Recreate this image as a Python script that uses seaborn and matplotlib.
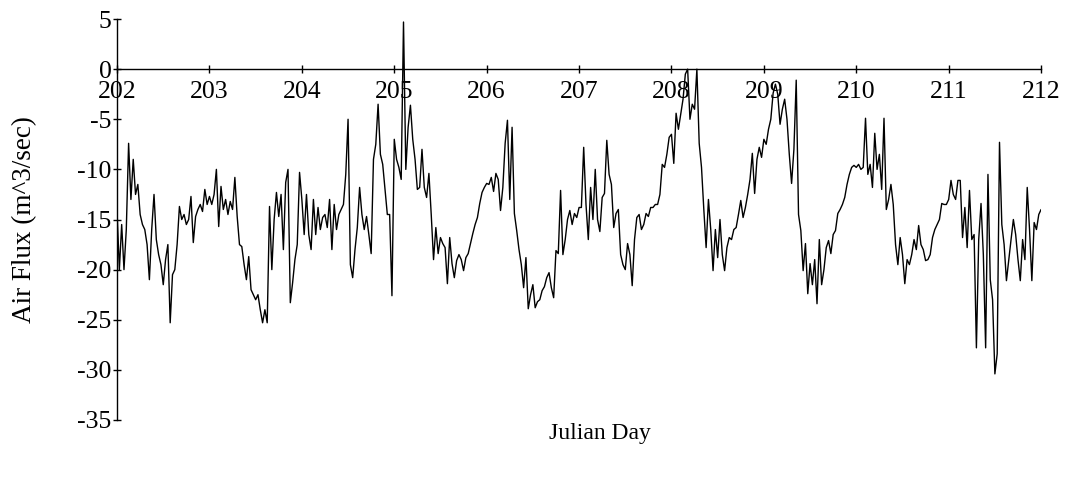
import numpy as np
import pandas as pd
import matplotlib
matplotlib.use("Agg")
import matplotlib.pyplot as plt
import seaborn as sns

# Air flux (m^3/sec), 40 samples per Julian day
day202 = [-14.2, -20, -15.5, -20, -16, -7.4, -13, -9, -12.5, -11.5,
          -14.5, -15.5, -16, -17.5, -21, -16, -12.5, -17, -18.5, -19.5,
          -21.5, -19, -17.5, -25.3, -20.5, -20, -17.5, -13.7, -15, -14.5,
          -15.5, -15, -12.7, -17.3, -14.7, -14, -13.5, -14.2, -12, -13.5]
day203 = [-12.7, -13.5, -12.5, -10, -15.7, -11.7, -14, -13, -14.5, -13.2,
          -14, -10.8, -14.7, -17.5, -17.7, -19.5, -21, -18.7, -22, -22.5,
          -23, -22.5, -24, -25.3, -24, -25.3, -13.7, -20, -15, -12.3,
          -14.7, -12.5, -18, -11.3, -10, -23.3, -21.3, -19, -17.5, -10.3]
day204 = [-13, -16.5, -12.5, -16.5, -18, -13, -16.5, -13.8, -16, -14.8,
          -14.5, -15.8, -13, -18, -13.5, -16, -14.5, -14, -13.5, -10.5,
          -5, -19.5, -20.8, -18, -15.8, -11.8, -14.5, -16, -14.7, -16.5,
          -18.4, -9, -7.5, -3.5, -8.5, -9.5, -12, -14.5, -14.5, -22.6]
day205 = [-7, -9, -9.8, -11, 4.7, -10, -5.8, -3.6, -7, -9,
          -12, -11.8, -8, -11.8, -12.8, -10.4, -14.5, -19, -15.8, -18.4,
          -16.8, -17.4, -17.8, -21.4, -16.8, -19.4, -20.8, -19.1, -18.5, -19,
          -20.1, -18.8, -18.4, -17.4, -16.4, -15.5, -14.8, -13.4, -12.3, -11.8]
day206 = [-11.4, -11.5, -10.8, -12.2, -10.4, -11, -14.1, -11.8, -7.4, -5.1,
          -13, -5.8, -14.4, -16.1, -18, -19.5, -21.8, -18.8, -23.9, -22.5,
          -21.5, -23.8, -23.2, -23, -22.1, -21.7, -20.8, -20.3, -21.8, -22.8,
          -18.1, -18.4, -12.1, -18.5, -17, -15, -14.1, -15.5, -14.4, -14.8]
day207 = [-13.8, -13.8, -7.8, -13.5, -17, -11.8, -15, -10, -15, -16.2,
          -12.8, -12.4, -7.1, -10.5, -11.5, -15.8, -14.4, -14, -18.5, -19.5,
          -20, -17.4, -18.5, -21.6, -17, -14.8, -14.5, -16, -15.5, -14.4,
          -14.7, -13.8, -13.8, -13.5, -13.5, -12.5, -9.5, -9.8, -8.5, -6.8]
day208 = [-6.5, -9.4, -4.4, -6, -4.5, -3, -0.5, 0, -5, -3.5,
          -4, 0, -7.4, -9.8, -14, -17.8, -13, -16, -20.1, -16,
          -18.8, -15, -18.5, -20.1, -17.8, -16.8, -17, -16, -15.8, -14.5,
          -13.1, -14.8, -13.8, -12.5, -11, -8.4, -12.4, -9, -7.8, -8.8]
day209 = [-7, -7.5, -6, -5, -2.4, -1.5, -2.5, -5.5, -4, -3,
          -5, -8.5, -11.4, -8, -1.1, -14.5, -16.1, -20.1, -17.4, -22.4,
          -19.4, -21.5, -19, -23.4, -17, -21.5, -20, -17.8, -17.1, -18.4,
          -16.5, -16.1, -14.4, -14, -13.5, -12.8, -11.5, -10.5, -9.8, -9.6]
day210 = [-9.8, -9.5, -10, -9.8, -4.9, -10.5, -9.5, -11.8, -6.4, -10,
          -8.5, -12, -4.9, -14, -13, -11.5, -13.5, -17.5, -19.5, -16.8,
          -18.5, -21.4, -19, -19.5, -18.5, -17, -18, -15.6, -17.5, -18,
          -19.1, -19, -18.5, -16.8, -16, -15.5, -15, -13.4, -13.5, -13.5]
day211 = [-13, -11.1, -12.5, -13, -11.1, -11.1, -16.8, -13.8, -17.8, -12.1,
          -17, -16.5, -27.8, -17, -13.4, -18.5, -27.8, -10.5, -21, -23,
          -30.4, -28.4, -7.3, -15.5, -17.5, -21.1, -19, -17, -15, -16.5,
          -19, -21.1, -17, -19, -11.8, -16, -21.1, -15.3, -16, -14.5]
day212 = [-14.0]

first_day = 202
samples_per_day = 40

flux = np.concatenate([day202, day203, day204, day205, day206, day207,
                       day208, day209, day210, day211, day212])
julian_day = first_day + np.arange(flux.size) / samples_per_day
df = pd.DataFrame({"Julian Day": julian_day, "Air Flux": flux})

sns.set_style("ticks")
plt.rcParams["font.family"] = ["Liberation Serif", "DejaVu Serif"]
plt.rcParams["axes.unicode_minus"] = False
plt.rcParams["text.color"] = "black"
plt.rcParams["axes.labelcolor"] = "black"

fig = plt.figure(figsize=(10.68, 4.94), dpi=100)
ax = fig.add_axes([0.1096, 0.1498, 0.8652, 0.8117])

sns.lineplot(data=df, x="Julian Day", y="Air Flux", color="black",
             linewidth=1.0, estimator=None, errorbar=None, ax=ax)

ax.set_xlim(202, 212)
ax.set_ylim(-35, 5)
ax.set_xticks(range(202, 213))
ax.set_yticks(range(-35, 6, 5))

# x axis drawn through zero, labels hanging below it
ax.spines["bottom"].set_position(("data", 0))
ax.spines["top"].set_visible(False)
ax.spines["right"].set_visible(False)
for side in ("left", "bottom"):
    ax.spines[side].set_linewidth(1.0)
    ax.spines[side].set_color("black")

ax.tick_params(axis="x", direction="inout", length=6, width=1, pad=5.5,
               labelsize=18.5, colors="black")
ax.tick_params(axis="y", direction="inout", length=6, width=1, pad=1,
               labelsize=18.5, colors="black")

ax.set_ylabel("Air Flux (m^3/sec)", fontsize=19.5, color="black")
ax.yaxis.set_label_coords(-0.087, 0.5)
ax.set_xlabel("Julian Day", fontsize=17, color="black")
ax.xaxis.set_label_coords(0.523, -0.008)

fig.savefig("out.png", dpi=100)
